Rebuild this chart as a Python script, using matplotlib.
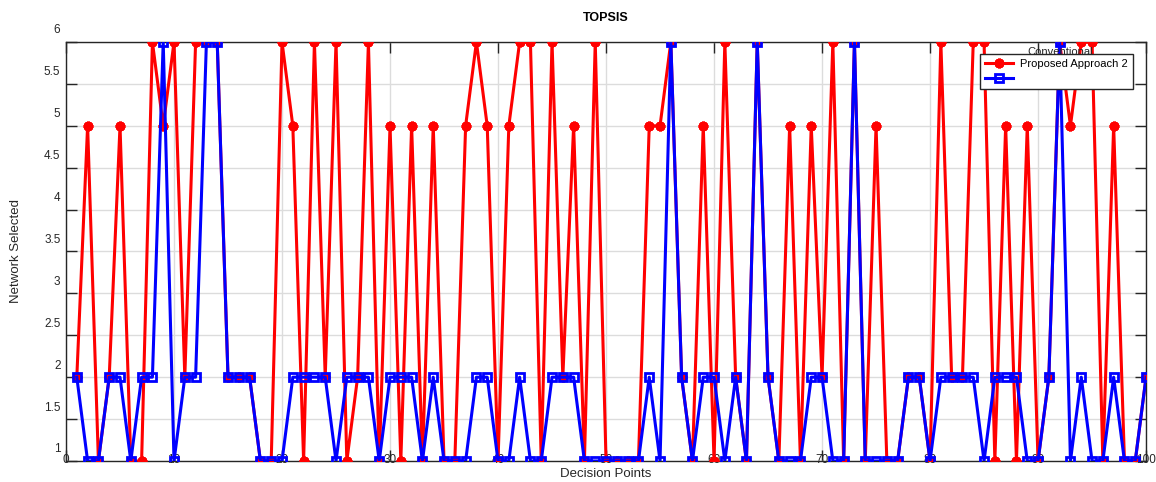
import numpy as np
import matplotlib.pyplot as plt
import matplotlib.transforms as mtransforms

plt.rcParams['font.family'] = ['Liberation Sans', 'DejaVu Sans']

# selected network at each decision point
points = np.arange(1, 101)
proposed = [2, 5, 1, 2, 5, 1, 1, 6, 5, 6,
            2, 6, 6, 6, 2, 2, 2, 1, 1, 6,
            5, 1, 6, 2, 6, 1, 2, 6, 1, 5,
            1, 5, 1, 5, 1, 1, 5, 6, 5, 1,
            5, 6, 6, 1, 6, 2, 5, 1, 6, 1,
            1, 1, 1, 5, 5, 6, 2, 1, 5, 1,
            6, 2, 1, 6, 2, 1, 5, 1, 5, 2,
            6, 1, 6, 1, 5, 1, 1, 2, 2, 1,
            6, 2, 2, 6, 6, 1, 5, 1, 5, 1,
            2, 6, 5, 6, 6, 1, 5, 1, 1, 2]
conventional = [2, 1, 1, 2, 2, 1, 2, 2, 6, 1,
                2, 2, 6, 6, 2, 2, 2, 1, 1, 1,
                2, 2, 2, 2, 1, 2, 2, 2, 1, 2,
                2, 2, 1, 2, 1, 1, 1, 2, 2, 1,
                1, 2, 1, 1, 2, 2, 2, 1, 1, 1,
                1, 1, 1, 2, 1, 6, 2, 1, 2, 2,
                1, 2, 1, 6, 2, 1, 1, 1, 2, 2,
                1, 1, 6, 1, 1, 1, 1, 2, 2, 1,
                2, 2, 2, 2, 1, 2, 2, 2, 1, 1,
                2, 6, 1, 2, 1, 1, 2, 1, 1, 2]

xticks = np.arange(0, 101, 10)
yticks = np.arange(1, 6.01, 0.5)
ytick_labels = ['1', '1.5', '2', '2.5', '3', '3.5', '4', '4.5', '5', '5.5', '6']

fig = plt.figure(figsize=(11.56, 4.82), dpi=100)
ax = fig.add_axes([0.0571, 0.0436, 0.9343, 0.8693])

l1, = ax.plot(points, proposed, color='#ff0000', lw=2.2, marker=(8, 2, 0),
              ms=7, mew=2.2, zorder=3)
l2, = ax.plot(points, conventional, color='#0000ff', lw=2.2, marker='s',
              ms=5.5, mew=2, mfc='none', zorder=4)

ax.set_xlim(0, 100)
ax.set_ylim(1, 6)
ax.set_xticks(xticks)
ax.set_yticks(yticks)
ax.set_yticklabels(ytick_labels)
ax.grid(True, color='#dcdcdc', lw=1)
ax.set_axisbelow(True)

ax.tick_params(direction='in', length=8, width=1, top=True, right=True,
               labelsize=8.5, labelcolor='#262626', color='#262626')
ax.tick_params(axis='x', pad=-4.8)
ax.tick_params(axis='y', pad=4)
for sp in ax.spines.values():
    sp.set_color('#262626')
    sp.set_linewidth(1)

# y labels sit a little above their ticks
shift = mtransforms.ScaledTranslation(0, 0.13, fig.dpi_scale_trans)
for lbl in ax.get_yticklabels():
    lbl.set_transform(lbl.get_transform() + shift)

ax.set_title('TOPSIS', fontsize=9, fontweight='bold', pad=15)
ax.set_xlabel('Decision Points', fontsize=9.5, color='#262626')
ax.set_ylabel('Network Selected', fontsize=9.5, color='#262626')
ax.xaxis.set_label_coords(0.5, -0.017)
ax.yaxis.set_label_coords(-0.041, 0.5)

leg = ax.legend([l1, l2], ['Proposed Approach 2', ''], loc='upper right',
                bbox_to_anchor=(0.988, 0.971), borderaxespad=0, fontsize=8,
                fancybox=False, framealpha=1, edgecolor='#262626',
                handlelength=2.5, handletextpad=0.7, borderpad=0.45,
                labelspacing=0.45)
leg.get_frame().set_linewidth(1)
leg.set_zorder(5)
ax.text(0.8898, 0.977, 'Conventional', transform=ax.transAxes, fontsize=8,
        ha='left', va='center', color='#262626', zorder=6)

fig.savefig('out.png', dpi=100)
